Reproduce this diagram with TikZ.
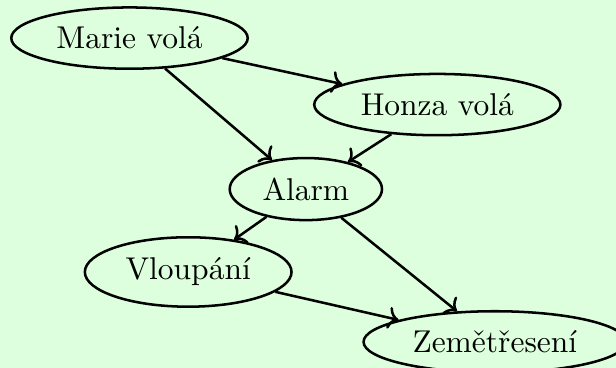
\documentclass[tikz,border=0pt]{standalone}
\usepackage{tikz}
\usetikzlibrary{positioning,arrows.meta,shapes.geometric}
\usepackage{xcolor}
\definecolor{bggreen}{RGB}{221,255,221}

\begin{document}
\begin{tikzpicture}[
    event/.style={ellipse, draw=black, thick},
    arrow/.style={->, thick, black}
]
    \path[use as bounding box, fill=bggreen] (0,0) rectangle (6.874,-4.105);

    \node[event] (marie) at (1.445,-0.425) {Marie volá};
    \node[event] (honza) at (4.880,-1.167) {Honza volá};
    \node[event] (alarm) at (3.413,-2.110) {Alarm};
    \node[event] (vloup) at (2.100,-3.035) {Vloupání};
    \node[event] (zeme)  at (5.522,-3.815) {Zemětřesení};

    \draw[arrow] (marie) -- (honza);
    \draw[arrow] (marie) -- (alarm);
    \draw[arrow] (honza) -- (alarm);
    \draw[arrow] (alarm) -- (vloup);
    \draw[arrow] (alarm) -- (zeme);
    \draw[arrow] (vloup) -- (zeme);
\end{tikzpicture}
\end{document}
